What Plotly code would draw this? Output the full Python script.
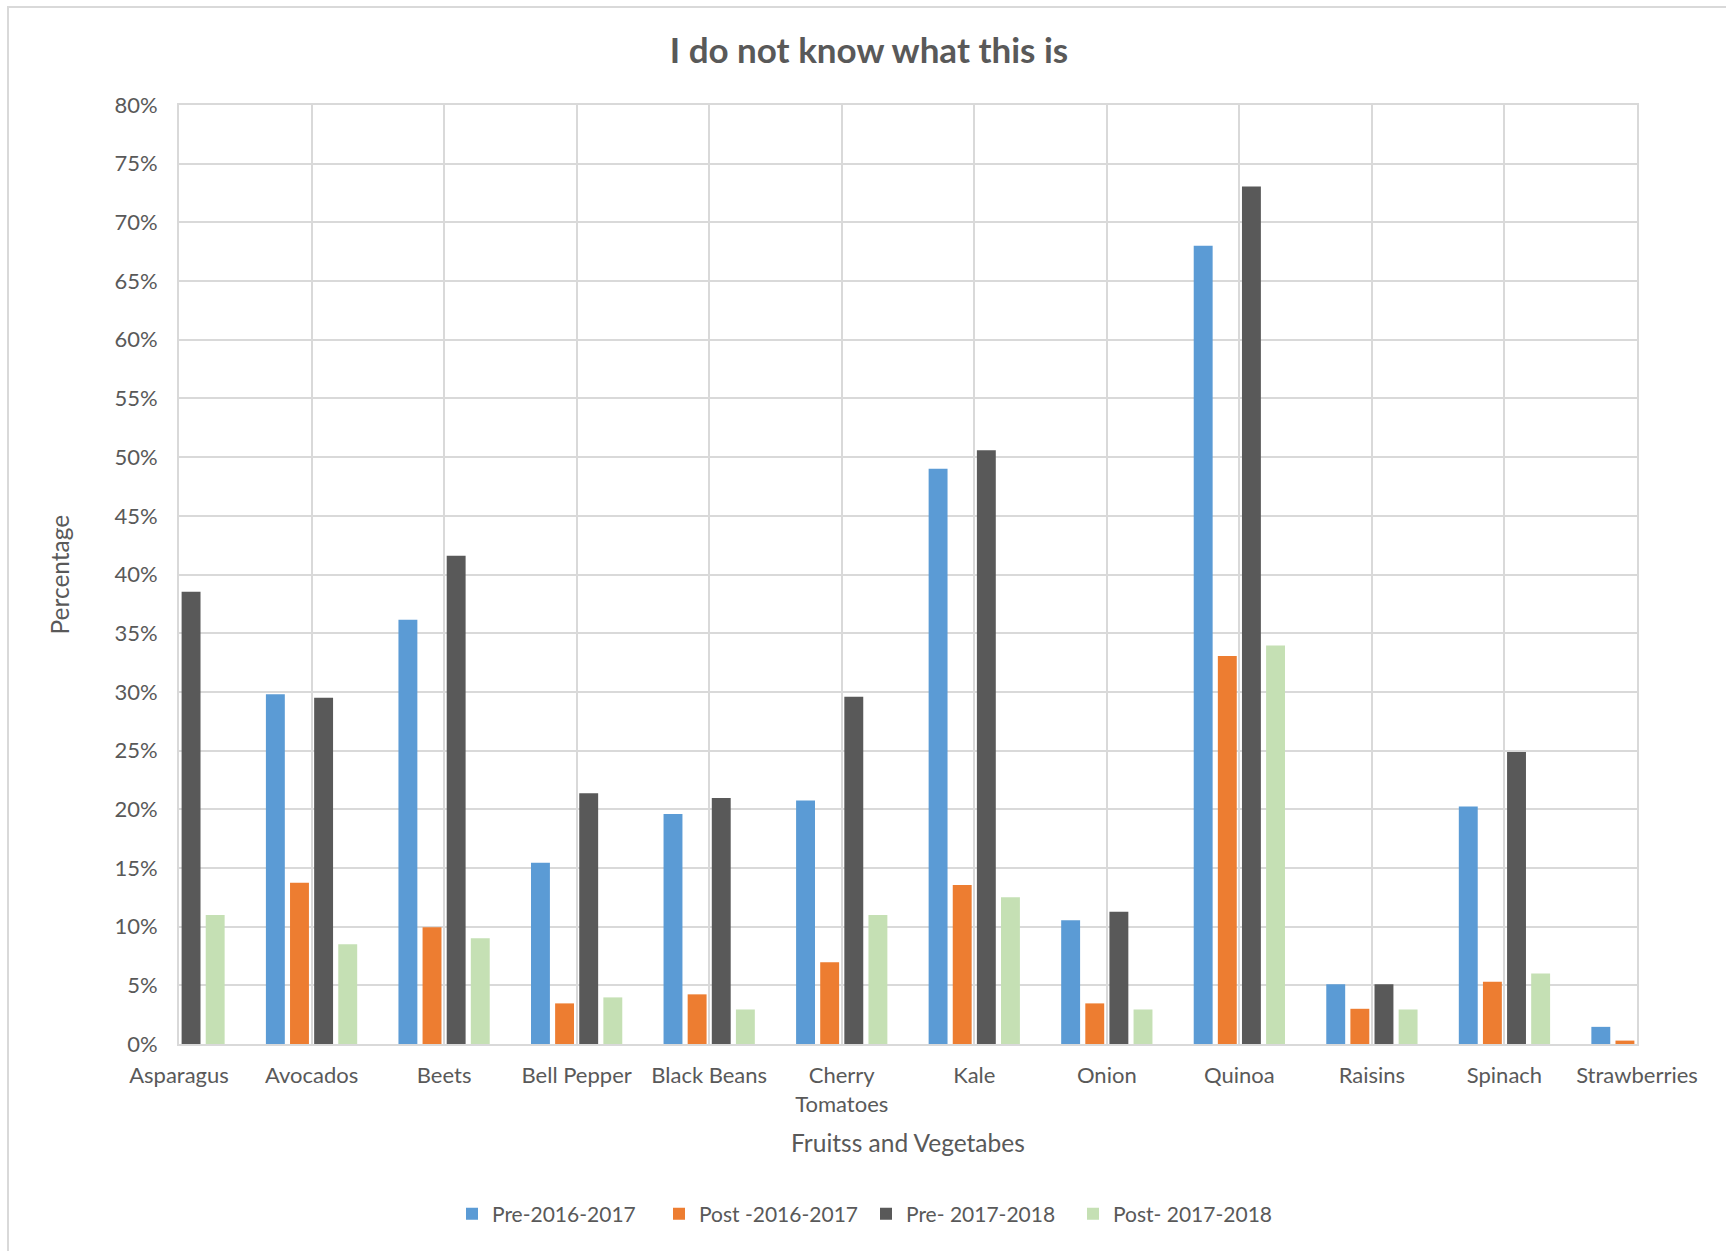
import plotly.graph_objects as go

# Survey results: share of respondents answering "I do not know what this is"
categories = ["Asparagus", "Avocados", "Beets", "Bell Pepper", "Black Beans",
              "Cherry<br>Tomatoes", "Kale", "Onion", "Quinoa", "Raisins",
              "Spinach", "Strawberries"]

pre_2016_2017 = [None, 0.298, 0.3615, 0.1544, 0.196, 0.2074, 0.4902, 0.1054, 0.680, 0.0509, 0.2023, 0.0146]
post_2016_2017 = [None, 0.1374, 0.0994, 0.0346, 0.0423, 0.0697, 0.1354, 0.0346, 0.3305, 0.030, 0.0531, 0.0029]
pre_2017_2018 = [0.3853, 0.2949, 0.4159, 0.2136, 0.2096, 0.2958, 0.5059, 0.1126, 0.7305, 0.0509, 0.2488, None]
post_2017_2018 = [0.110, 0.0849, 0.090, 0.0397, 0.0294, 0.110, 0.1251, 0.0294, 0.3395, 0.0294, 0.060, None]

series_names = ["Pre-2016-2017", "Post -2016-2017", "Pre- 2017-2018", "Post- 2017-2018"]
series_values = [pre_2016_2017, post_2016_2017, pre_2017_2018, post_2017_2018]
series_colors = ["#5B9BD5", "#ED7D31", "#595959", "#C5E0B4"]

TEXT = "#595959"
GRID = "#D9D9D9"
FONT = "Lato"

W, H = 1726, 1251
L, R, T, B = 179, 89, 105, 207
plot_w = W - L - R
plot_h = H - T - B

fig = go.Figure()
for name, vals, col in zip(series_names, series_values, series_colors):
    fig.add_trace(go.Bar(x=categories, y=vals, name=name,
                         marker=dict(color=col, line=dict(width=0))))

fig.update_layout(
    width=W, height=H,
    margin=dict(l=L, r=R, t=T, b=B),
    paper_bgcolor="white", plot_bgcolor="white",
    barmode="group", bargap=0.272, bargroupgap=0.216,
    font=dict(family=FONT, color=TEXT, size=22),
    title=dict(text="<b>I do not know what this is</b>",
               x=869 / W, xref="container", xanchor="center",
               y=1 - 51 / H, yref="container", yanchor="middle",
               font=dict(family=FONT, size=35, color=TEXT)),
    showlegend=True,
    legend=dict(orientation="h", x=(866 - L) / plot_w, xanchor="center",
                y=-(1214 - (H - B)) / plot_h, yanchor="middle",
                font=dict(family=FONT, size=21, color=TEXT),
                itemwidth=30, entrywidth=162, entrywidthmode="pixels",
                traceorder="normal"),
)

fig.update_xaxes(
    type="category", range=[0, len(categories) - 1],
    showgrid=True, gridcolor=GRID, gridwidth=2,
    showline=True, linecolor=GRID, linewidth=2, mirror=True,
    ticks="", ticklabelstandoff=11,
    tickfont=dict(family=FONT, size=22, color=TEXT),
    fixedrange=True,
)
fig.update_yaxes(
    range=[0, 0.8], dtick=0.05, tickformat=".0%",
    showgrid=True, gridcolor=GRID, gridwidth=2,
    showline=True, linecolor=GRID, linewidth=2, mirror=True,
    zeroline=False, ticks="", ticklabelstandoff=15,
    tickfont=dict(family=FONT, size=22, color=TEXT),
    fixedrange=True,
)

# Axis titles
fig.add_annotation(text="Fruitss and Vegetabes", xref="paper", yref="paper",
                   x=0.5, y=0, yanchor="middle", yshift=-98, showarrow=False,
                   font=dict(family=FONT, size=24.5, color=TEXT))
fig.add_annotation(text="Percentage", xref="paper", yref="paper",
                   x=0, y=0.5, xanchor="center", xshift=-(L - 59), textangle=-90,
                   showarrow=False, font=dict(family=FONT, size=24.5, color=TEXT))

# Chart area frame
fig.add_shape(type="rect", xref="paper", yref="paper", layer="below",
              x0=(8 - L) / plot_w, x1=(W + 20 - L) / plot_w,
              y0=-(H + 20 - (H - B)) / plot_h, y1=((H - B) - 7) / plot_h,
              line=dict(color=GRID, width=2), fillcolor="rgba(0,0,0,0)")

fig.write_html("out.html")
